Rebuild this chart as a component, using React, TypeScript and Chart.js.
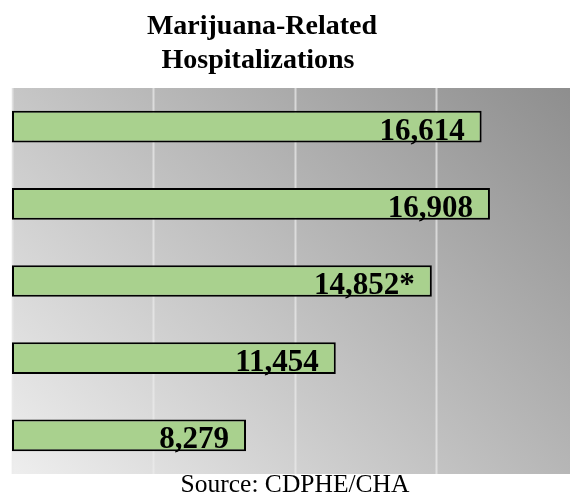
import React, { useEffect, useRef } from "react";
import { Chart, registerables } from "chart.js";

Chart.register(...registerables);

const categories = ["2017", "2016", "2015", "2014", "2013"];
const hospitalizations = [16614, 16908, 14852, 11454, 8279];
const valueNotes = ["", "", "*", "", ""];
const titleLines = ["Marijuana-Related", "Hospitalizations"];
const sourceText = "Source: CDPHE/CHA";
const gridStep = 5000;
const axisMax = 19740;

const backgroundPlugin = {
  id: "bgGradient",
  beforeDraw(chart: any) {
    const { ctx, chartArea } = chart;
    const { left, right, top, bottom } = chartArea;
    const g = ctx.createLinearGradient(left, bottom, left + 462, bottom - 480);
    g.addColorStop(0, "rgb(238,238,238)");
    g.addColorStop(1, "rgb(142,142,142)");
    ctx.save();
    ctx.fillStyle = g;
    ctx.fillRect(left, top, right - left, bottom - top);
    // vertical grid lines from the x scale
    const xs = chart.scales.x;
    ctx.strokeStyle = "rgba(235,235,235,0.7)";
    ctx.lineWidth = 2;
    for (let v = 0; v < axisMax; v += gridStep) {
      const px = Math.round(xs.getPixelForValue(v)) + 0.5;
      ctx.beginPath();
      ctx.moveTo(px, top);
      ctx.lineTo(px, bottom);
      ctx.stroke();
    }
    ctx.restore();
  },
};

const textPlugin = {
  id: "texts",
  afterDatasetsDraw(chart: any) {
    const { ctx } = chart;
    const meta = chart.getDatasetMeta(0);
    ctx.save();
    ctx.fillStyle = "#000";
    ctx.font = "bold 31px 'Liberation Serif'";
    ctx.textAlign = "right";
    ctx.textBaseline = "alphabetic";
    meta.data.forEach((bar: any, i: number) => {
      const v = hospitalizations[i];
      const txt = v.toLocaleString("en-US") + valueNotes[i];
      ctx.fillText(txt, bar.x - 17, bar.y + 13);
    });
    ctx.restore();
  },
  afterDraw(chart: any) {
    const { ctx } = chart;
    ctx.save();
    ctx.fillStyle = "#000";
    ctx.textAlign = "center";
    ctx.textBaseline = "alphabetic";
    ctx.font = "bold 28px 'Liberation Serif'";
    ctx.fillText(titleLines[0], 262, 34);
    ctx.fillText(titleLines[1], 258, 68);
    ctx.font = "25.5px 'Liberation Serif'";
    ctx.fillText(sourceText, 295, 492);
    ctx.restore();
  },
};

export default function App() {
  const ref = useRef<HTMLCanvasElement | null>(null);
  useEffect(() => {
    if (!ref.current) return;
    const chart = new Chart(ref.current, {
      type: "bar",
      data: {
        labels: categories,
        datasets: [
          {
            data: hospitalizations,
            backgroundColor: "#a9d18e",
            borderColor: "#000000",
            borderWidth: 2,
            borderSkipped: false,
            categoryPercentage: 1,
            barPercentage: 0.41,
          },
        ],
      },
      options: {
        indexAxis: "y",
        animation: false,
        responsive: false,
        maintainAspectRatio: false,
        layout: { padding: { left: 12, right: 0, top: 88, bottom: 26 } },
        plugins: {
          legend: { display: false },
          title: { display: false },
          tooltip: { enabled: false },
        },
        scales: {
          x: {
            display: false,
            min: 0,
            max: axisMax,
            ticks: { stepSize: gridStep },
          },
          y: { display: false },
        },
      },
      plugins: [backgroundPlugin, textPlugin],
    });
    return () => chart.destroy();
  }, []);
  return (
    <div style={{ position: "fixed", left: 0, top: 0, width: 570, height: 500, background: "#fff" }}>
      <canvas ref={ref} width={570} height={500} style={{ display: "block" }} />
    </div>
  );
}
